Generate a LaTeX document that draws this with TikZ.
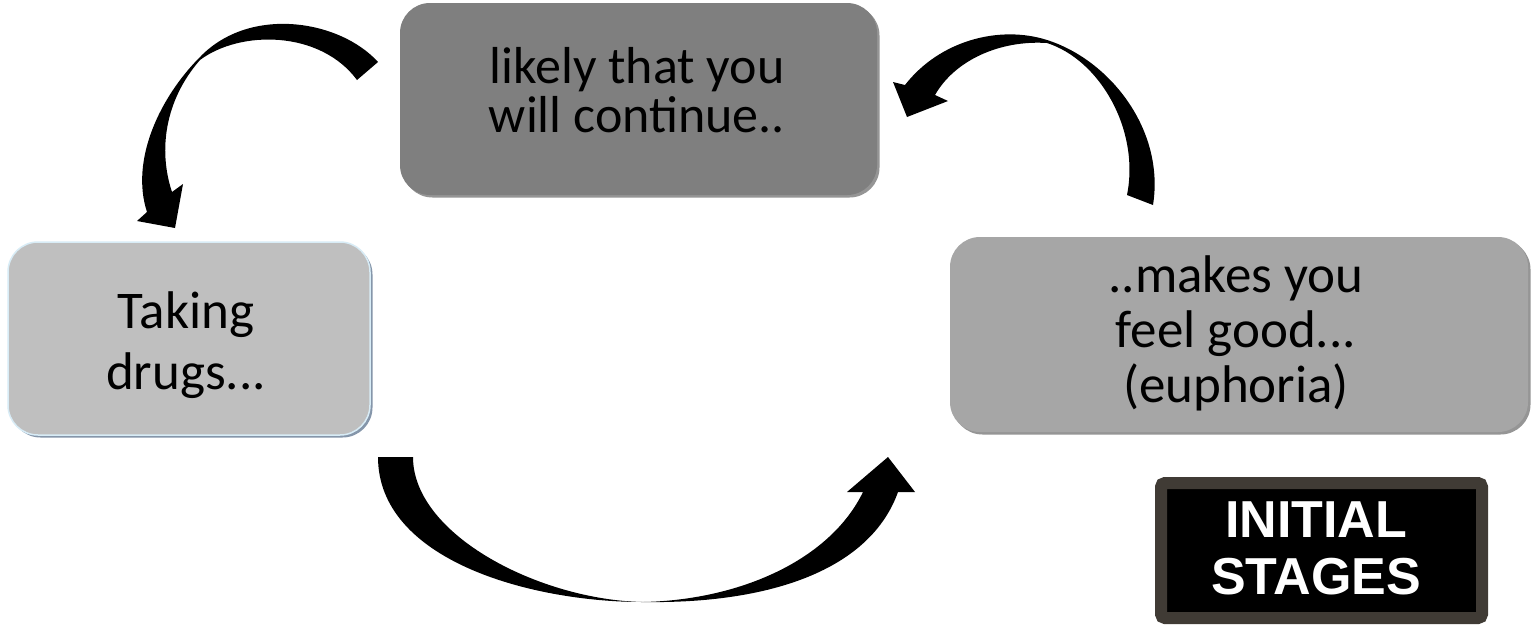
\documentclass[tikz,border=0pt]{standalone}
\usepackage{fontspec}
\setmainfont{Carlito}
\newfontfamily\stagefont{Liberation Sans}
\definecolor{boxdark}{HTML}{7F7F7F}
\definecolor{boxlight}{HTML}{BFBFBF}
\definecolor{boxmid}{HTML}{A6A6A6}
\definecolor{shadowgray}{HTML}{959595}
\definecolor{shadowblue}{HTML}{8596AA}
\definecolor{edgeblue}{HTML}{D8ECF6}
\definecolor{framecol}{HTML}{403B35}
\begin{document}
\begin{tikzpicture}[x=1pt,y=-1pt,
  stagebox/.style={rounded corners=30pt, inner sep=0pt, draw=none,
    preaction={fill=#1, transform canvas={xshift=2.5pt,yshift=-2.5pt}}},
  steptext/.style={align=center, inner sep=0pt, text=black},
  curvearrow/.style={fill=black},
  labelbox/.style={fill=black, draw=framecol, line width=12pt, rounded corners=4pt, inner sep=0pt}
]
\useasboundingbox[fill=white] (0,0) rectangle (1531,625);

% boxes
\node[stagebox=shadowgray, fill=boxdark, minimum width=477pt, minimum height=192pt] (cont) at (638.5,99) {};
\node[stagebox=shadowblue, fill=boxlight, draw=edgeblue, line width=1.5pt, minimum width=362pt, minimum height=193pt] (take) at (189,338.5) {};
\node[stagebox=shadowgray, fill=boxmid, minimum width=578pt, minimum height=195pt] (feel) at (1239,334.5) {};

% texts
\node[steptext, font=\fontsize{52}{49}\selectfont] (conttext) at (637,90.5) {likely that you\\ will continue..};
\node[steptext, font=\fontsize{53}{61}\selectfont] (taketext) at (186,345.5) {Taking\\ drugs...};
\node[steptext, font=\fontsize{53}{55}\selectfont] (feeltext) at (1236,333) {..makes you\\ feel good...\\ (euphoria)};

% label
\node[labelbox, minimum width=321pt, minimum height=135pt] (stage) at (1321.5,550.5) {};
\node[steptext, text=white, font=\stagefont\bfseries\fontsize{52}{57}\selectfont] (stagetext) at (1316,548) {INITIAL\\ STAGES};

% arrow: continue -> taking drugs
\fill[curvearrow] (378,62) .. controls (340,20) and (250,5) .. (200,57)
  .. controls (160,97) and (130,160) .. (147,212)
  -- (137,221) -- (175,228) -- (183,184) -- (172,192)
  .. controls (158,150) and (165,100) .. (200,60)
  .. controls (240,30) and (320,30) .. (357,80) -- cycle;

% arrow: feel good -> continue
\fill[curvearrow] (905,85) .. controls (940,40) and (1000,25) .. (1047,40)
  .. controls (1110,60) and (1165,130) .. (1153,205)
  -- (1127,195)
  .. controls (1140,130) and (1100,60) .. (1047,43)
  .. controls (1000,40) and (955,60) .. (935,95)
  -- (948,101) -- (907,117) -- (893,82) -- cycle;

% arrow: taking drugs -> feel good
\fill[curvearrow] (378,457) .. controls (378,560) and (530,602) .. (643,602)
  .. controls (770,604) and (870,570) .. (898,492)
  -- (915,492) -- (888,457) -- (847,492) -- (863,492)
  .. controls (830,560) and (740,600) .. (643,602)
  .. controls (540,600) and (413,535) .. (413,457) -- cycle;
\end{tikzpicture}
\end{document}
